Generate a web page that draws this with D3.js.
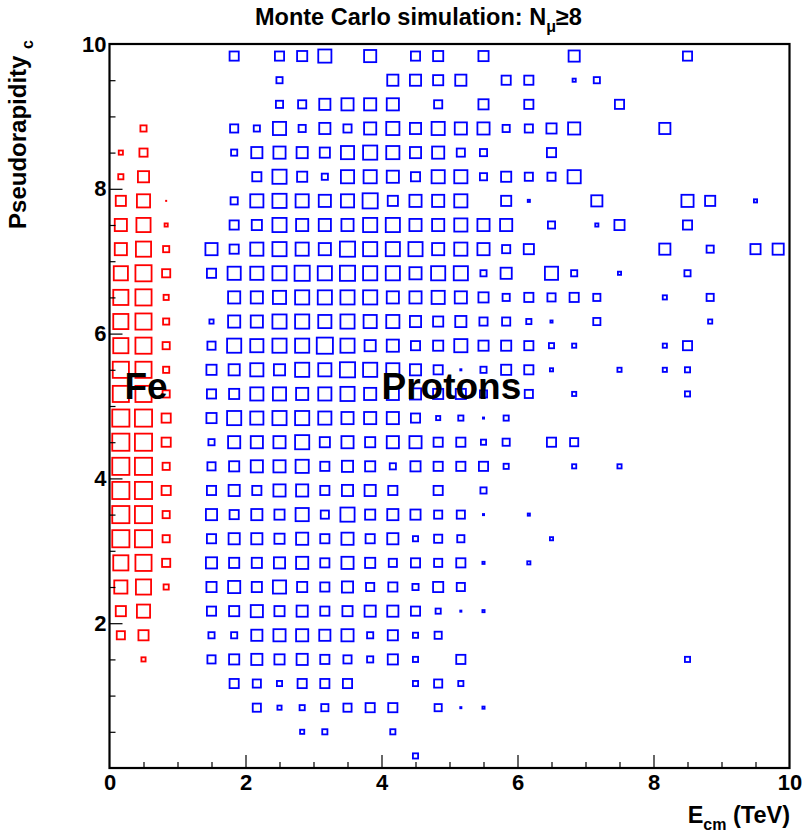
<!DOCTYPE html>
<html><head><meta charset="utf-8">
<script src="https://cdn.jsdelivr.net/npm/d3@7"></script>
<style>
body{margin:0;background:#fff}
svg{display:block}
text{font-family:"Liberation Sans",Arial,Helvetica,sans-serif;font-weight:bold;fill:#000}
</style>
</head><body>
<svg id="chart" width="804" height="834"></svg>
<script>
// ---------- data ----------
const nBins = 30;                 // 30 x 30 bins over [0,10] x [0,10]
const xDomain = [0, 10];
const yDomain = [0, 10];
const xTickLabels = [0, 2, 4, 6, 8, 10];
const yTickLabels = [2, 4, 6, 8, 10];
const titleText = "Monte Carlo simulation: N";
const xTitle = "E";
const yTitle = "Pseudorapidity";

// Proton counts: rows from top eta bin (29) down to bin 0; 30 energy bins each
const protonRows = [
[0,0,0,0,0,11,0,11,12,15,0,14,0,11,12,0,12,0,0,0,13,0,0,0,0,11,0,0,0,0],
[0,0,0,0,0,0,0,8,0,0,0,0,13,13,12,13,0,11,11,0,5,8,0,0,0,0,0,0,0,0],
[0,0,0,0,0,0,0,9,10,13,14,14,14,0,10,0,12,0,11,0,0,0,11,0,0,0,0,0,0,0],
[0,0,0,0,0,10,8,15,9,13,10,14,15,13,15,14,14,9,10,12,14,0,0,0,13,0,0,0,0,0],
[0,0,0,0,0,8,13,14,13,12,15,16,15,13,14,10,9,0,0,11,0,0,0,0,0,0,0,0,0,0],
[0,0,0,0,0,0,11,16,12,8,15,15,14,11,15,15,9,12,10,10,15,0,0,0,0,0,0,0,0,0],
[0,0,0,0,0,9,15,16,15,14,15,17,12,14,14,15,0,12,4,0,0,13,0,0,0,14,12,0,5,0],
[0,0,0,0,0,11,12,16,14,14,14,16,16,14,14,15,14,14,0,9,0,5,12,0,0,11,0,0,0,0],
[0,0,0,0,14,11,15,16,15,14,17,16,16,16,14,15,14,10,12,0,0,0,0,0,13,0,9,0,12,13],
[0,0,0,0,11,15,15,16,17,16,17,16,16,14,16,16,8,13,0,15,8,0,5,0,0,8,0,0,0,0],
[0,0,0,0,0,14,14,15,16,16,16,16,14,14,15,14,12,9,11,10,11,9,0,0,6,0,9,0,0,0],
[0,0,0,0,6,14,14,16,16,15,16,15,15,13,12,13,10,10,7,4,0,9,0,0,0,0,6,0,0,0],
[0,0,0,0,10,16,15,16,16,18,16,13,14,11,12,15,12,12,11,7,6,0,0,0,6,11,0,0,0,0],
[0,0,0,0,12,13,15,13,16,15,17,16,15,13,11,3,8,12,11,5,0,0,6,0,6,7,0,0,0,0],
[0,0,0,0,11,12,15,15,14,15,16,14,14,13,12,12,9,0,10,0,6,0,0,0,0,7,0,0,0,0],
[0,0,0,0,12,16,15,16,16,15,14,14,14,11,6,7,3,7,0,0,0,0,0,0,0,0,0,0,0,0],
[0,0,0,0,8,14,14,14,16,12,14,12,14,14,11,11,7,9,0,11,10,0,0,0,0,0,0,0,0,0],
[0,0,0,0,10,12,14,14,15,11,13,12,8,12,11,11,11,7,0,0,6,0,6,0,0,0,0,0,0,0],
[0,0,0,0,11,13,11,14,14,11,13,13,11,0,11,0,8,0,0,0,0,0,0,0,0,0,0,0,0,0],
[0,0,0,0,13,11,13,12,15,10,16,12,13,12,10,10,3,0,4,0,0,0,0,0,0,0,0,0,0,0],
[0,0,0,0,11,13,13,12,14,11,14,11,13,7,10,9,0,0,0,5,0,0,0,0,0,0,0,0,0,0],
[0,0,0,0,13,12,12,13,14,11,14,12,10,11,10,11,4,0,5,0,0,0,0,0,0,0,0,0,0,0],
[0,0,0,0,12,14,12,15,12,11,13,10,11,8,12,10,0,0,0,0,0,0,0,0,0,0,0,0,0,0],
[0,0,0,0,11,12,14,12,13,11,12,13,13,11,7,3,4,0,0,0,0,0,0,0,0,0,0,0,0,0],
[0,0,0,0,8,8,13,14,14,13,14,8,12,7,9,0,0,0,0,0,0,0,0,0,0,0,0,0,0,0],
[0,0,0,0,10,12,13,12,13,11,10,8,12,7,0,11,0,0,0,0,0,0,0,0,0,7,0,0,0,0],
[0,0,0,0,0,11,10,7,11,11,11,0,0,7,10,7,0,0,0,0,0,0,0,0,0,0,0,0,0,0],
[0,0,0,0,0,0,10,6,7,9,10,11,11,0,9,3,4,0,0,0,0,0,0,0,0,0,0,0,0,0],
[0,0,0,0,0,0,0,0,6,7,0,0,7,0,0,0,0,0,0,0,0,0,0,0,0,0,0,0,0,0],
[0,0,0,0,0,0,0,0,0,0,0,0,0,7,0,0,0,0,0,0,0,0,0,0,0,0,0,0,0,0]
];

// Fe counts: rows from top eta bin (29) down to bin 0; only the first 3 energy bins are filled
const feRows = [
[0,0,0],[0,0,0],[0,0,0],[0,8,0],[6,10,0],[7,13,0],[12,15,2],[14,16,5],[14,17,8],[16,18,10],
[17,18,7],[17,18,8],[17,18,9],[18,18,8],[18,18,9],[19,19,11],[19,19,11],[19,19,9],[19,19,11],[19,19,9],
[19,19,9],[17,18,10],[15,17,7],[12,15,0],[10,12,0],[0,6,0],[0,0,0],[0,0,0],[0,0,0],[0,0,0]
];

const labels = [
  {text: "Fe", x: 0.22, y: 5.1},
  {text: "Protons", x: 4.0, y: 5.1}
];

// ---------- layout ----------
const plot = {left: 109.5, right: 789.5, top: 44, bottom: 768};
const svg = d3.select("#chart");

const x = d3.scaleLinear().domain(xDomain).range([plot.left, plot.right]);
const y = d3.scaleLinear().domain(yDomain).range([plot.bottom, plot.top]);
const binStep = (xDomain[1] - xDomain[0]) / nBins;
const binW = x(binStep) - x(0);
const size = d3.scaleLinear().domain([0, 20]).range([0, binW * 0.88]);

function cellsFrom(rows) {
  const out = [];
  rows.forEach((row, r) => {
    const yb = nBins - 1 - r;
    row.forEach((v, c) => { if (v > 0) out.push({xb: c, yb: yb, v: v}); });
  });
  return out;
}

function drawBoxes(rows, color) {
  const sw = 1.8;
  const g = svg.append("g");
  cellsFrom(rows).forEach(d => {
    const cx = x((d.xb + 0.5) * binStep);
    const cy = y((d.yb + 0.5) * binStep);
    const s = size(d.v);
    if (s <= 3.6) {
      g.append("rect").attr("x", cx - s / 2).attr("y", cy - s / 2)
        .attr("width", s).attr("height", s).attr("fill", color);
    } else {
      const w = s - sw;
      g.append("rect").attr("x", cx - w / 2).attr("y", cy - w / 2)
        .attr("width", w).attr("height", w)
        .attr("fill", "none").attr("stroke", color).attr("stroke-width", sw);
    }
  });
}

drawBoxes(feRows, "#ff0000");
drawBoxes(protonRows, "#0000ff");

// ---------- axes ----------
const minorX = d3.range(0.5, 10, 0.5).filter(v => v % 2 !== 0);
const majorX = [2, 4, 6, 8];
const gx = svg.append("g").attr("transform", `translate(0,${plot.bottom})`);
gx.append("g").call(d3.axisBottom(x).tickValues(minorX).tickSize(-6).tickFormat(""));
gx.append("g").call(d3.axisBottom(x).tickValues(majorX).tickSize(-13).tickFormat(""));
gx.append("g").call(d3.axisBottom(x).tickValues(xTickLabels).tickSize(0).tickPadding(6).tickFormat(d3.format("d")));
gx.selectAll(".domain").remove();
gx.selectAll("line").attr("stroke", "#000").attr("stroke-width", 1.2);
gx.selectAll("text").style("font-size", "22px").attr("fill", "#000");

const minorY = d3.range(0.5, 10, 0.5).filter(v => v % 2 !== 0);
const majorY = [2, 4, 6, 8];
const gy = svg.append("g").attr("transform", `translate(${plot.left},0)`);
gy.append("g").call(d3.axisLeft(y).tickValues(minorY).tickSize(-6).tickFormat(""));
gy.append("g").call(d3.axisLeft(y).tickValues(majorY).tickSize(-13).tickFormat(""));
gy.append("g").call(d3.axisLeft(y).tickValues(yTickLabels).tickSize(0).tickPadding(3).tickFormat(d3.format("d")));
gy.selectAll(".domain").remove();
gy.selectAll("line").attr("stroke", "#000").attr("stroke-width", 1.2);
gy.selectAll("text").style("font-size", "22px").attr("fill", "#000");

// frame
svg.append("rect").attr("x", plot.left).attr("y", plot.top)
  .attr("width", plot.right - plot.left).attr("height", plot.bottom - plot.top)
  .attr("fill", "none").attr("stroke", "#000").attr("stroke-width", 2.2);

// in-plot labels
labels.forEach(l => {
  svg.append("text").attr("x", x(l.x)).attr("y", y(l.y))
    .style("font-size", "37px").text(l.text);
});

// title
const t = svg.append("text").attr("x", 255).attr("y", 25).style("font-size", "23.5px");
t.append("tspan").text(titleText);
t.append("tspan").attr("dy", 7).style("font-size", "16px").text("\u03bc");
t.append("tspan").attr("dy", -7).text("\u22658");

// x title
const xt = svg.append("text").attr("x", 790).attr("y", 823).attr("text-anchor", "end").style("font-size", "23.5px");
xt.append("tspan").text(xTitle);
xt.append("tspan").attr("dy", 7).style("font-size", "16px").text("cm");
xt.append("tspan").attr("dy", -7).text(" (TeV)");

// y title
const yt = svg.append("text").attr("transform", `translate(26,40) rotate(-90)`)
  .attr("text-anchor", "end").style("font-size", "24px");
yt.append("tspan").text(yTitle + " ");
yt.append("tspan").attr("dy", 7).style("font-size", "16px").text("c");
</script>
</body></html>
